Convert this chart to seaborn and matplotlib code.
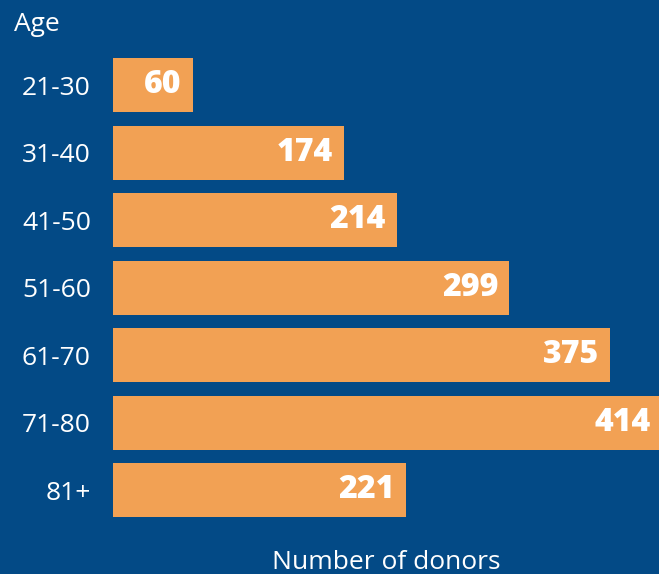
import matplotlib
matplotlib.use("Agg")
import matplotlib.pyplot as plt
import seaborn as sns
import pandas as pd

# data
age_groups = ["21-30", "31-40", "41-50", "51-60", "61-70", "71-80", "81+"]
donors = [60, 174, 214, 299, 375, 414, 221]

bg = "#034A86"
bar_color = "#F2A154"

sns.set_theme(style="white")
plt.rcParams["font.family"] = ["Open Sans", "DejaVu Sans"]

df = pd.DataFrame({"age": age_groups, "donors": donors})

fig = plt.figure(figsize=(6.59, 5.74), dpi=100, facecolor=bg)
ax = fig.add_axes([0.1715, 0.0875, 0.8285, 0.8232])
ax.set_facecolor(bg)

sns.barplot(data=df, x="donors", y="age", color=bar_color, saturation=1,
            width=0.8, linewidth=0, ax=ax)

ax.set_xlim(0, 412)
ax.set_ylim(6.5, -0.5)

# value labels at the bar ends
for i, v in enumerate(donors):
    ax.annotate(str(v), xy=(v, i), xytext=(-8, 0), textcoords="offset points",
                ha="right", va="center", color="white", fontsize=23,
                fontweight="heavy", annotation_clip=False)

for s in ax.spines.values():
    s.set_visible(False)
ax.set_xticks([])
ax.tick_params(axis="y", length=0, pad=16, labelsize=19, labelcolor="white")
ax.set_ylabel("")
ax.set_xlabel("Number of donors", color="white", fontsize=19, labelpad=19)

fig.text(14 / 659, 1 - 31 / 574, "Age", color="white", fontsize=19,
         ha="left", va="baseline")

fig.savefig("out.png", dpi=100, facecolor=bg)
